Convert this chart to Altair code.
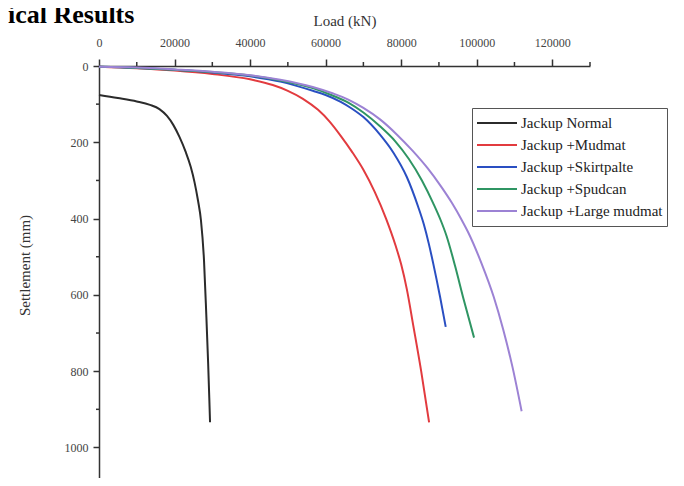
import altair as alt
import pandas as pd

series_names = ["Jackup Normal", "Jackup +Mudmat", "Jackup +Skirtpalte",
                "Jackup +Spudcan", "Jackup +Large mudmat"]
series_colors = ["#2b2b2b", "#e23b3f", "#2a4fc2", "#2f9563", "#9c82d4"]

normal_load = [0, 5000, 10000, 13500, 16000, 18000, 19700, 21300, 22900, 24300,
               25300, 26200, 27000, 27800, 28400, 28900, 29200, 29400]
normal_settle = [76, 84, 93, 102, 113, 131, 155, 186, 224, 265,
                 305, 352, 405, 509, 650, 780, 870, 934]

mudmat_load = [0, 10000, 20000, 30000, 40000, 46000, 50000, 54000, 58000, 61000,
               64000, 67000, 70000, 73000, 76000, 78500, 80000, 81500, 83200, 85300, 87400]
mudmat_settle = [2, 6, 12, 21, 35, 50, 65, 86, 115, 145,
                 183, 225, 272, 330, 400, 470, 520, 585, 680, 800, 934]

skirt_load = [0, 10000, 20000, 30000, 40000, 48000, 56600, 60000, 64000, 67000,
              70000, 74400, 78000, 81500, 84500, 86000, 87300, 88500, 90300, 91800]
skirt_settle = [2, 5, 10, 17, 27, 41, 65, 76, 94, 112,
                134, 180, 228, 291, 369, 415, 465, 518, 605, 684]

spud_load = [0, 10000, 20000, 30000, 40000, 48000, 56600, 62000, 66000, 70000,
             74400, 78500, 82000, 85500, 88500, 90500, 92000, 94300, 96500, 99300]
spud_settle = [2, 5, 10, 16, 25, 38, 58, 78, 96, 122,
               158, 198, 243, 300, 360, 405, 445, 525, 610, 712]

large_load = [0, 10000, 20000, 30000, 40000, 48000, 56600, 62000, 66000, 70000,
              74400, 78900, 83000, 87000, 90500, 93500, 96000, 97800, 101300, 104500,
              107000, 109500, 111900]
large_settle = [2, 4, 9, 15, 24, 36, 55, 72, 88, 110,
                140, 180, 222, 268, 315, 360, 403, 437, 518, 605,
                690, 790, 905]

x_major = [0, 20000, 40000, 60000, 80000, 100000, 120000]
x_minor = [10000, 30000, 50000, 70000, 90000, 110000, 130000]
y_major = [0, 200, 400, 600, 800, 1000]
y_minor = [100, 300, 500, 700, 900]

rows = []
for name, loads, settles in [
    (series_names[0], normal_load, normal_settle),
    (series_names[1], mudmat_load, mudmat_settle),
    (series_names[2], skirt_load, skirt_settle),
    (series_names[3], spud_load, spud_settle),
    (series_names[4], large_load, large_settle),
]:
    for i, (l, s) in enumerate(zip(loads, settles)):
        rows.append({"series": name, "load": l, "settlement": s, "idx": i})
df = pd.DataFrame(rows)

FONT = "Liberation Serif"
AX = "#333333"

x_scale = alt.Scale(domain=[0, 130000], nice=False, zero=False)
y_scale = alt.Scale(domain=[0, 1080], reverse=True, nice=False, zero=False)

lines = alt.Chart(df).mark_line(strokeWidth=2, interpolate="monotone").encode(
    x=alt.X("load:Q", scale=x_scale,
            axis=alt.Axis(orient="top", title="Load (kN)", values=x_major, format="d",
                          tickSize=7, tickWidth=1.5, tickColor=AX, domainColor=AX,
                          domainWidth=1.5, labelFont=FONT, labelFontSize=12,
                          labelColor="#444444", labelPadding=10, titleFont=FONT,
                          titleFontSize=15, titleFontWeight="normal", titleColor="#333333",
                          titlePadding=8, grid=False, labelFlush=False)),
    y=alt.Y("settlement:Q", scale=y_scale,
            axis=alt.Axis(orient="left", title="Settlement (mm)", values=y_major, format="d",
                          tickSize=6, tickWidth=1.5, tickColor=AX, domainColor=AX,
                          domainWidth=1.5, labelFont=FONT, labelFontSize=12,
                          labelColor="#444444", labelPadding=5, titleFont=FONT,
                          titleFontSize=15, titleFontWeight="normal", titleColor="#333333",
                          titleX=-75, titleY=199, titleAngle=270, titleBaseline="middle",
                          grid=False, labelFlush=False)),
    color=alt.Color("series:N",
                    scale=alt.Scale(domain=series_names, range=series_colors),
                    legend=alt.Legend(title=None, orient="none", legendX=373, legendY=42,
                                      symbolType="stroke", symbolSize=1600,
                                      symbolStrokeWidth=2, labelFont=FONT,
                                      labelFontSize=15, labelColor="#222222",
                                      strokeColor="#555555", fillColor="white",
                                      padding=4, rowPadding=0, clipHeight=22,
                                      labelLimit=300, labelOffset=3)),
    order="idx:Q",
)

xminor = alt.Chart(pd.DataFrame({"load": x_minor})).mark_rule(
    color=AX, strokeWidth=1.5).encode(
    x=alt.X("load:Q", scale=x_scale), y=alt.value(0), y2=alt.value(-4))

yminor = alt.Chart(pd.DataFrame({"settlement": y_minor})).mark_rule(
    color=AX, strokeWidth=1.5).encode(
    y=alt.Y("settlement:Q", scale=y_scale), x=alt.value(0), x2=alt.value(-3))

heading = alt.Chart(pd.DataFrame({"t": ["ical Results"]})).mark_text(
    font=FONT, fontSize=26, fontWeight="bold", align="left", baseline="alphabetic",
    color="#000000").encode(text="t:N", x=alt.value(-91), y=alt.value(-43))

chart = alt.layer(lines, xminor, yminor, heading).properties(
    width=491, height=412,
    autosize=alt.AutoSizeParams(type="none"),
    padding={"left": 91, "top": 58, "right": 86, "bottom": 0},
).configure_view(stroke=None)

chart.save("out.html", embed_options={"renderer": "svg", "actions": False})
